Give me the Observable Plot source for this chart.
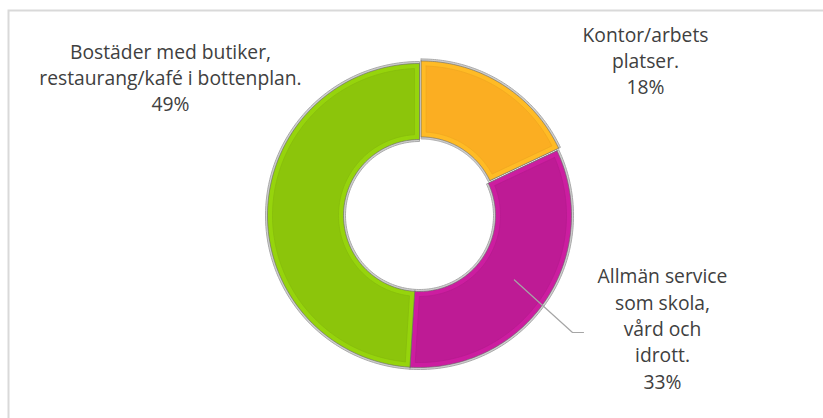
<!DOCTYPE html>
<html>
<head>
<meta charset="utf-8">
<script src="https://cdn.jsdelivr.net/npm/d3@7"></script>
<script src="https://cdn.jsdelivr.net/npm/@observablehq/plot@0.6"></script>
<style>
  html, body { margin: 0; padding: 0; background: #fff; }
  #chart { width: 823px; height: 418px; }
</style>
</head>
<body>
<div id="chart"></div>
<script>
// ---- data ----
const categories = [
  "Kontor/arbets\nplatser.",
  "Allmän service\nsom skola,\nvård och\nidrott.",
  "Bostäder med butiker,\nrestaurang/kafé i bottenplan."
];
const shares = [18, 33, 49];
const colors = ["#FBAE22", "#BE1B95", "#8CC50B"];

// ---- layout (pixels) ----
const W = 823, H = 418;
const cx = 419, cy = 215, R = 152, innerRatio = 76 / 152;
const explode = [3, 0, 0];            // px offset along bisector
const labelCenters = [[645, 59], [662, 327], [170, 76]];

const xDomain = [-cx / R, (W - cx) / R];
const yDomain = [-(H - cy) / R, cy / R];

const total = d3.sum(shares);
let acc = 0;
const slices = shares.map((s, i) => {
  const a0 = acc / total * 2 * Math.PI;
  acc += s;
  const a1 = acc / total * 2 * Math.PI;
  return { i, a0, a1, mid: (a0 + a1) / 2, share: s, cat: categories[i], color: colors[i] };
});

function ring(sl, rOut, rIn, shrinkPx) {
  const pts = [];
  const n = 90;
  const off = explode[sl.i] / R;
  const ox = off * Math.sin(sl.mid), oy = off * Math.cos(sl.mid);
  const dOut = (shrinkPx / R) / rOut, dIn = (shrinkPx / R) / rIn;
  for (let k = 0; k <= n; k++) {
    const a = sl.a0 + dOut + (sl.a1 - sl.a0 - 2 * dOut) * k / n;
    pts.push({ id: sl.i, x: ox + rOut * Math.sin(a), y: oy + rOut * Math.cos(a) });
  }
  for (let k = n; k >= 0; k--) {
    const a = sl.a0 + dIn + (sl.a1 - sl.a0 - 2 * dIn) * k / n;
    pts.push({ id: sl.i, x: ox + rIn * Math.sin(a), y: oy + rIn * Math.cos(a) });
  }
  pts.push(pts[0]);
  return pts;
}

const outerPts = slices.flatMap(sl => ring(sl, 1, innerRatio, 0));
const bevelPts = slices.flatMap(sl => ring(sl, 1 - 5 / R, innerRatio + 5 / R, 5));
const silverPts = slices.flatMap(sl => ring(sl, 1 + 2 / R, innerRatio - 2 / R, 0));

const shade = (c, k) => d3.color(c).brighter(k).formatHex();

const labels = slices.map(sl => ({
  text: sl.cat + "\n" + sl.share + "%",
  x: (labelCenters[sl.i][0] - cx) / R,
  y: (cy - labelCenters[sl.i][1]) / R
}));

// leader line from magenta slice to its label
const mag = slices[1];
const leader = [
  { x: 0.755 * Math.sin(mag.mid), y: 0.755 * Math.cos(mag.mid) },
  { x: (572 - cx) / R, y: (cy - 332) / R },
  { x: (583 - cx) / R, y: (cy - 332) / R }
];

const chart = Plot.plot({
  width: W, height: H,
  margin: 0,
  x: { domain: xDomain, range: [0, W], axis: null },
  y: { domain: yDomain, range: [H, 0], axis: null },
  style: { fontFamily: "'Open Sans', sans-serif", background: "#fff" },
  marks: [
    Plot.frame({ stroke: "#d9d9d9", strokeWidth: 2, insetLeft: 8, insetTop: 10, insetRight: -5, insetBottom: -5 }),
    // silver rim
    Plot.line(silverPts, { x: "x", y: "y", z: "id", fill: "#cfcfcf", stroke: "#aaaaaa", strokeWidth: 1, curve: "linear" }),
    // slice base (bevel edge)
    Plot.line(outerPts, { x: "x", y: "y", z: "id",
      fill: d => shade(colors[d.id], 0.2), stroke: "#666", strokeOpacity: 0.6, strokeWidth: 1 }),
    // slice face
    Plot.line(bevelPts, { x: "x", y: "y", z: "id",
      fill: d => colors[d.id], stroke: d => d3.color(colors[d.id]).darker(0.12).formatHex(), strokeWidth: 0.8 }),
    Plot.line(leader, { x: "x", y: "y", stroke: "#a6a6a6", strokeWidth: 1.2 }),
    Plot.text(labels, { x: "x", y: "y", text: "text", fill: "#404040", fontSize: 19.3, lineHeight: 1.37, textAnchor: "middle" })
  ]
});
document.getElementById("chart").appendChild(chart);
</script>
</body>
</html>
